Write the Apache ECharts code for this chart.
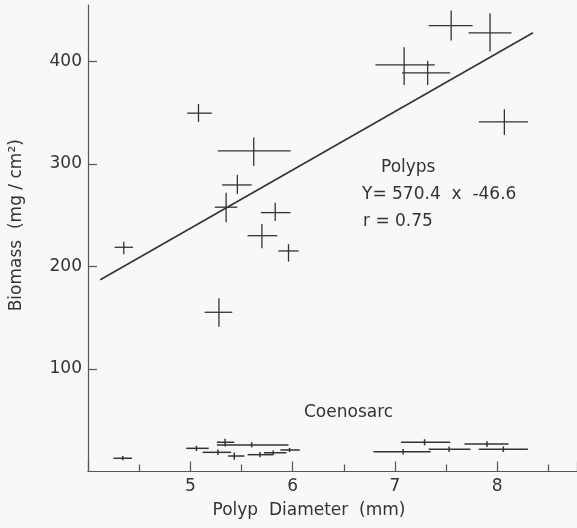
<!DOCTYPE html>
<html>
<head>
<meta charset="utf-8">
<script src="https://cdn.jsdelivr.net/npm/echarts@6/dist/echarts.min.js"></script>
<style>
html,body{margin:0;padding:0;background:#f8f8f6;}
#chart{width:577px;height:528px;}
</style>
</head>
<body>
<div id="chart"></div>
<script>
// ---- Polyps (mean, with horizontal/vertical error ranges) ----
const polypX   = [4.35, 5.08, 5.62, 5.46, 5.35, 5.83, 5.70, 5.96, 5.28, 7.09, 7.32, 7.55, 7.93, 8.07];
const polypY   = [218.7, 349.5, 312.7, 279.5, 257.8, 252.5, 230.0, 215.1, 155.3, 396.6, 388.8, 434.9, 427.8, 341.0];
const polypXLo = [4.26, 4.97, 5.27, 5.31, 5.24, 5.69, 5.56, 5.86, 5.14, 6.81, 7.07, 7.33, 7.72, 7.82];
const polypXHi = [4.44, 5.21, 5.98, 5.60, 5.46, 5.98, 5.85, 6.06, 5.41, 7.39, 7.54, 7.76, 8.14, 8.30];
const polypYLo = [212.0, 341.0, 298.0, 270.7, 243.0, 244.4, 217.8, 204.7, 141.3, 377.0, 377.0, 420.3, 409.6, 328.3];
const polypYHi = [224.0, 358.5, 325.7, 289.3, 272.0, 262.2, 241.5, 221.7, 169.0, 413.9, 400.5, 449.6, 447.0, 353.4];

// ---- Coenosarc ----
const coenoX   = [4.34, 5.06, 5.34, 5.60, 5.27, 5.43, 5.68, 5.81, 5.97, 7.29, 7.08, 7.53, 7.90, 8.06];
const coenoY   = [12.9, 22.6, 28.5, 25.9, 18.7, 15.1, 16.4, 18.3, 21.0, 28.5, 19.3, 21.7, 26.8, 21.7];
const coenoXLo = [4.25, 4.96, 5.26, 5.26, 5.12, 5.37, 5.56, 5.72, 5.88, 7.06, 6.79, 7.33, 7.68, 7.82];
const coenoXHi = [4.43, 5.18, 5.43, 5.96, 5.40, 5.53, 5.81, 5.94, 6.07, 7.54, 7.35, 7.74, 8.11, 8.30];
const coenoYLo = [11.0, 20.0, 24.5, 23.5, 16.0, 11.5, 14.0, 16.0, 19.0, 25.5, 16.5, 19.0, 24.0, 19.0];
const coenoYHi = [15.0, 25.0, 32.0, 28.5, 21.5, 18.5, 19.0, 20.5, 23.0, 31.5, 22.0, 24.5, 29.5, 24.5];

// ---- Regression line endpoints ----
const regX = [4.12, 8.35];
const regY = [187.0, 428.0];

// ---- Axes ----
const xMin = 4, xMax = 8.78, xInterval = 1;
const yMin = 0, yMax = 455, yInterval = 100;

const ink = '#333333';
const font = 'DejaVu Sans';

function zip(a, b, c, d, e, f) { return a.map((v, i) => [v, b[i], c[i], d[i], e[i], f[i]]); }

function crossItem(lw) {
  return function (params, api) {
    const l = api.coord([api.value(2), api.value(1)]);
    const r = api.coord([api.value(3), api.value(1)]);
    const b = api.coord([api.value(0), api.value(4)]);
    const t = api.coord([api.value(0), api.value(5)]);
    return {
      type: 'group',
      children: [
        { type: 'line', shape: { x1: l[0], y1: l[1], x2: r[0], y2: r[1] }, style: { stroke: ink, lineWidth: lw } },
        { type: 'line', shape: { x1: t[0], y1: t[1], x2: b[0], y2: b[1] }, style: { stroke: ink, lineWidth: lw } }
      ]
    };
  };
}

const chart = echarts.init(document.getElementById('chart'), null, { renderer: 'canvas' });
chart.setOption({
  backgroundColor: '#f8f8f6',
  animation: false,
  grid: { left: 88, right: 0, top: 5, bottom: 56.5 },
  xAxis: {
    type: 'value', min: xMin, max: xMax, interval: xInterval,
    name: 'Polyp  Diameter  (mm)', nameLocation: 'middle', nameGap: 31,
    nameTextStyle: { fontFamily: font, fontSize: 17, color: ink, padding: [0, 47, 0, 0] },
    axisLine: { show: true, lineStyle: { color: '#555', width: 1.2 } },
    axisTick: { show: true, inside: true, length: 10, lineStyle: { color: '#555', width: 1.2 } },
    minorTick: { show: true, splitNumber: 2, length: 7, lineStyle: { color: '#555', width: 1.2 } },
    axisLabel: {
      fontFamily: font, fontSize: 17, color: ink, margin: 7,
      showMinLabel: false, showMaxLabel: false,
      formatter: v => (Number.isInteger(v) && v > xMin ? String(v) : '')
    },
    splitLine: { show: false }
  },
  yAxis: {
    type: 'value', min: yMin, max: yMax, interval: yInterval,
    name: 'Biomass  (mg / cm²)', nameLocation: 'middle', nameGap: 63,
    nameTextStyle: { fontFamily: font, fontSize: 17, color: ink, padding: [0, 0, 0, 26] },
    axisLine: { show: true, lineStyle: { color: '#555', width: 1.2 } },
    axisTick: { show: true, inside: true, length: 9, lineStyle: { color: '#555', width: 1.2 } },
    axisLabel: {
      fontFamily: font, fontSize: 17, color: ink, margin: 6,
      showMinLabel: false, showMaxLabel: false,
      formatter: v => (v > 0 && v % 100 === 0 ? String(v) : '')
    },
    splitLine: { show: false }
  },
  graphic: [
    { type: 'text', left: 381, top: 159, style: { text: 'Polyps', fontFamily: font, fontSize: 17, fill: ink } },
    { type: 'text', left: 362, top: 186, style: { text: 'Y= 570.4  x  -46.6', fontFamily: font, fontSize: 17, fill: ink } },
    { type: 'text', left: 363, top: 213, style: { text: 'r = 0.75', fontFamily: font, fontSize: 17, fill: ink } },
    { type: 'text', left: 304, top: 404, style: { text: 'Coenosarc', fontFamily: font, fontSize: 17, fill: ink } }
  ],
  series: [
    {
      name: 'Polyps', type: 'custom', renderItem: crossItem(1.3),
      data: zip(polypX, polypY, polypXLo, polypXHi, polypYLo, polypYHi),
      encode: { x: 0, y: 1 }
    },
    {
      name: 'Coenosarc', type: 'custom', renderItem: crossItem(1.5),
      data: zip(coenoX, coenoY, coenoXLo, coenoXHi, coenoYLo, coenoYHi),
      encode: { x: 0, y: 1 }
    },
    {
      name: 'Regression', type: 'line', symbol: 'none',
      data: regX.map((x, i) => [x, regY[i]]),
      lineStyle: { color: ink, width: 1.6 }
    }
  ]
});
</script>
</body>
</html>
